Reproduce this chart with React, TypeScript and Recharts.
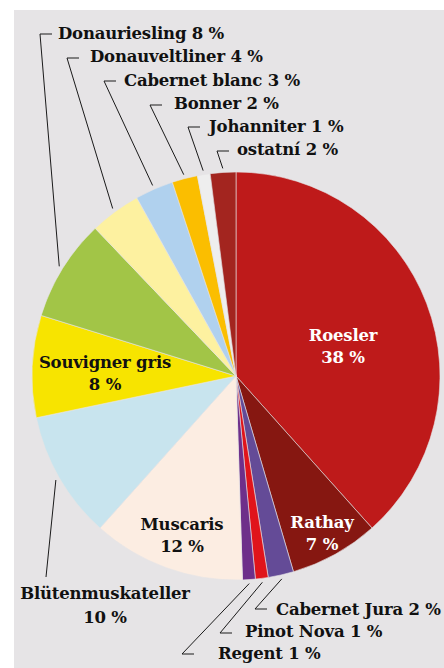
import React from 'react';
import { PieChart, Pie, Cell } from 'recharts';

// Share of grape varieties (%), clockwise from 12 o'clock
const varieties = [
  'Roesler',
  'Rathay',
  'Cabernet Jura',
  'Pinot Nova',
  'Regent',
  'Muscaris',
  'Blütenmuskateller',
  'Souvigner gris',
  'Donauriesling',
  'Donauveltliner',
  'Cabernet blanc',
  'Bonner',
  'Johanniter',
  'ostatní',
];
const shares = [38, 7, 2, 1, 1, 12, 10, 8, 8, 4, 3, 2, 1, 2];

const COLORS = [
  '#be1a1a',
  '#861711',
  '#644b97',
  '#e0141b',
  '#6e2f8a',
  '#fcede2',
  '#c8e4ee',
  '#f7e400',
  '#a2c547',
  '#fdf1a0',
  '#b0d1ee',
  '#fbbe00',
  '#eeeeee',
  '#a3251f',
];

const data = varieties.map((name, i) => ({ name, value: shares[i] }));

const FONT = '"DejaVu Serif", serif';
const BG = '#e6e4e6';

// where each label goes (layout only)
type LabelLayout =
  | { kind: 'inside'; x: number; y: number; fill: string }
  | { kind: 'leader'; tickX: number; tickY: number; textX: number; textY: number }
  | { kind: 'below'; lineX: number; lineY: number; x: number; y: number };

const LAYOUT: LabelLayout[] = [
  { kind: 'inside', x: 343, y: 341, fill: '#ffffff' },
  { kind: 'inside', x: 322, y: 528, fill: '#ffffff' },
  { kind: 'leader', tickX: 255, tickY: 609, textX: 276, textY: 615 },
  { kind: 'leader', tickX: 220, tickY: 633, textX: 245, textY: 637 },
  { kind: 'leader', tickX: 182, tickY: 654, textX: 218, textY: 659 },
  { kind: 'inside', x: 182, y: 530, fill: '#111111' },
  { kind: 'below', lineX: 46, lineY: 577, x: 105, y: 599 },
  { kind: 'inside', x: 105, y: 368, fill: '#111111' },
  { kind: 'leader', tickX: 40, tickY: 34, textX: 58, textY: 39 },
  { kind: 'leader', tickX: 67, tickY: 58, textX: 90, textY: 62 },
  { kind: 'leader', tickX: 104, tickY: 81, textX: 124, textY: 86 },
  { kind: 'leader', tickX: 150, tickY: 105, textX: 174, textY: 109 },
  { kind: 'leader', tickX: 188, tickY: 127, textX: 209, textY: 132 },
  { kind: 'leader', tickX: 217, tickY: 151, textX: 237, textY: 155 },
];

const RADIAN = Math.PI / 180;

const renderLabel = (props: any) => {
  const { cx, cy, midAngle, outerRadius, index, name, value } = props;
  const lay = LAYOUT[index];
  const textStyle = { fontFamily: FONT, fontWeight: 700, fontSize: 16.5, letterSpacing: -0.2 };
  const r = outerRadius + 4;
  const px = cx + r * Math.cos(-midAngle * RADIAN);
  const py = cy + r * Math.sin(-midAngle * RADIAN);

  if (lay.kind === 'inside') {
    return (
      <g key={`lbl-${index}`}>
        <text x={lay.x} y={lay.y} textAnchor="middle" fill={lay.fill} style={textStyle}>
          {name}
        </text>
        <text x={lay.x} y={lay.y + 22} textAnchor="middle" fill={lay.fill} style={textStyle}>
          {`${value} %`}
        </text>
      </g>
    );
  }
  if (lay.kind === 'below') {
    return (
      <g key={`lbl-${index}`}>
        <line x1={px} y1={py} x2={lay.lineX} y2={lay.lineY} stroke="#1a1a1a" strokeWidth={1} />
        <text x={lay.x} y={lay.y} textAnchor="middle" fill="#111111" style={textStyle}>
          {name}
        </text>
        <text x={lay.x} y={lay.y + 24} textAnchor="middle" fill="#111111" style={textStyle}>
          {`${value} %`}
        </text>
      </g>
    );
  }
  return (
    <g key={`lbl-${index}`}>
      <polyline
        points={`${px},${py} ${lay.tickX},${lay.tickY} ${lay.tickX + 12},${lay.tickY}`}
        fill="none"
        stroke="#1a1a1a"
        strokeWidth={1}
      />
      <text x={lay.textX} y={lay.textY} textAnchor="start" fill="#111111" style={textStyle}>
        {`${name} ${value} %`}
      </text>
    </g>
  );
};

export default function App() {
  return (
    <div style={{ position: 'absolute', left: 0, top: 0, width: 444, height: 668, background: '#ffffff' }}>
      <div style={{ position: 'absolute', left: 14, top: 10, width: 430, height: 658, background: BG }} />
      <div style={{ position: 'absolute', left: 0, top: 0 }}>
        <PieChart width={444} height={668} margin={{ top: 0, right: 0, bottom: 0, left: 0 }}>
          <Pie
            data={data}
            dataKey="value"
            nameKey="name"
            cx={236}
            cy={376}
            outerRadius={204}
            startAngle={90}
            endAngle={-270}
            stroke={BG}
            strokeWidth={0.6}
            labelLine={false}
            label={renderLabel}
            isAnimationActive={false}
          >
            {data.map((entry, index) => (
              <Cell key={`cell-${index}`} fill={COLORS[index % COLORS.length]} />
            ))}
          </Pie>
        </PieChart>
      </div>
    </div>
  );
}
